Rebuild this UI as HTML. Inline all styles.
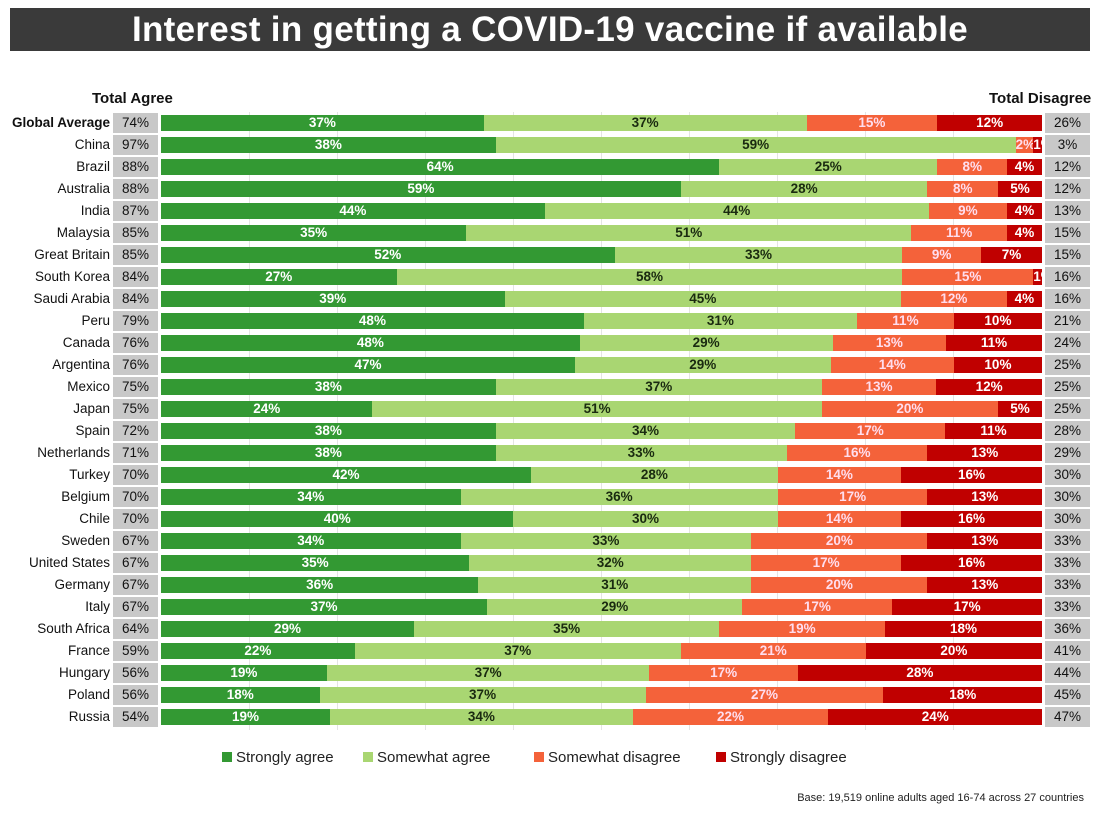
<!DOCTYPE html>
<html><head><meta charset="utf-8"><style>
body{margin:0;width:1118px;height:818px;background:#fff;position:relative;overflow:hidden;font-family:"Liberation Sans",sans-serif}
.title{position:absolute;left:10px;top:8px;width:1080px;height:43px;background:#3a3a3a;color:#fff;font-weight:bold;font-size:35px;text-align:center;line-height:43px;letter-spacing:0.3px}
.h{position:absolute;top:90px;font-weight:bold;font-size:15px;color:#111}
.r{position:absolute;left:0;width:1118px;height:20px}
.n{position:absolute;right:1008px;top:0;line-height:20px;font-size:13.5px;color:#111;white-space:nowrap}
.a,.d{position:absolute;top:0;width:45px;height:20px;background:#c8c8c8;text-align:center;line-height:20px;font-size:13.5px;color:#111}
.a{left:113px}.d{left:1045px}
.b{position:absolute;left:161px;width:881px;top:2px;height:16px;display:flex}
.b span{display:block;height:16px;line-height:16px;text-align:center;font-weight:bold;font-size:13.5px;overflow:hidden;white-space:nowrap}
.s1{background:#339933;color:#fff}.s2{background:#a9d672;color:#1a2a10}.s3{background:#f4623a;color:#fde}.s4{background:#c00000;color:#fff}
.g{position:absolute;top:112px;height:618px;width:1px;background:#e4e4e4}
.lg{position:absolute;top:749px;font-size:15px;color:#222}
.lg i{display:inline-block;width:10px;height:10px;margin-right:4px;vertical-align:0}
.ft{position:absolute;right:34px;top:792px;font-size:11px;color:#222}
</style></head><body>
<div class="title">Interest in getting a COVID-19 vaccine if available</div>
<div class="h" style="left:92px">Total Agree</div>
<div class="h" style="left:989px;white-space:nowrap">Total Disagree</div>
<div class="g" style="left:249px"></div><div class="g" style="left:337px"></div><div class="g" style="left:425px"></div><div class="g" style="left:513px"></div><div class="g" style="left:601px"></div><div class="g" style="left:689px"></div><div class="g" style="left:777px"></div><div class="g" style="left:865px"></div><div class="g" style="left:953px"></div>

<div class="r" style="top:113px"><div class="n" style="font-weight:bold">Global Average</div><div class="a">74%</div><div class="b"><span class="s1" style="flex:37">37%</span><span class="s2" style="flex:37">37%</span><span class="s3" style="flex:15">15%</span><span class="s4" style="flex:12">12%</span></div><div class="d">26%</div></div>
<div class="r" style="top:135px"><div class="n">China</div><div class="a">97%</div><div class="b"><span class="s1" style="flex:38">38%</span><span class="s2" style="flex:59">59%</span><span class="s3" style="flex:2">2%</span><span class="s4" style="flex:1">1%</span></div><div class="d">3%</div></div>
<div class="r" style="top:157px"><div class="n">Brazil</div><div class="a">88%</div><div class="b"><span class="s1" style="flex:64">64%</span><span class="s2" style="flex:25">25%</span><span class="s3" style="flex:8">8%</span><span class="s4" style="flex:4">4%</span></div><div class="d">12%</div></div>
<div class="r" style="top:179px"><div class="n">Australia</div><div class="a">88%</div><div class="b"><span class="s1" style="flex:59">59%</span><span class="s2" style="flex:28">28%</span><span class="s3" style="flex:8">8%</span><span class="s4" style="flex:5">5%</span></div><div class="d">12%</div></div>
<div class="r" style="top:201px"><div class="n">India</div><div class="a">87%</div><div class="b"><span class="s1" style="flex:44">44%</span><span class="s2" style="flex:44">44%</span><span class="s3" style="flex:9">9%</span><span class="s4" style="flex:4">4%</span></div><div class="d">13%</div></div>
<div class="r" style="top:223px"><div class="n">Malaysia</div><div class="a">85%</div><div class="b"><span class="s1" style="flex:35">35%</span><span class="s2" style="flex:51">51%</span><span class="s3" style="flex:11">11%</span><span class="s4" style="flex:4">4%</span></div><div class="d">15%</div></div>
<div class="r" style="top:245px"><div class="n">Great Britain</div><div class="a">85%</div><div class="b"><span class="s1" style="flex:52">52%</span><span class="s2" style="flex:33">33%</span><span class="s3" style="flex:9">9%</span><span class="s4" style="flex:7">7%</span></div><div class="d">15%</div></div>
<div class="r" style="top:267px"><div class="n">South Korea</div><div class="a">84%</div><div class="b"><span class="s1" style="flex:27">27%</span><span class="s2" style="flex:58">58%</span><span class="s3" style="flex:15">15%</span><span class="s4" style="flex:1">1%</span></div><div class="d">16%</div></div>
<div class="r" style="top:289px"><div class="n">Saudi Arabia</div><div class="a">84%</div><div class="b"><span class="s1" style="flex:39">39%</span><span class="s2" style="flex:45">45%</span><span class="s3" style="flex:12">12%</span><span class="s4" style="flex:4">4%</span></div><div class="d">16%</div></div>
<div class="r" style="top:311px"><div class="n">Peru</div><div class="a">79%</div><div class="b"><span class="s1" style="flex:48">48%</span><span class="s2" style="flex:31">31%</span><span class="s3" style="flex:11">11%</span><span class="s4" style="flex:10">10%</span></div><div class="d">21%</div></div>
<div class="r" style="top:333px"><div class="n">Canada</div><div class="a">76%</div><div class="b"><span class="s1" style="flex:48">48%</span><span class="s2" style="flex:29">29%</span><span class="s3" style="flex:13">13%</span><span class="s4" style="flex:11">11%</span></div><div class="d">24%</div></div>
<div class="r" style="top:355px"><div class="n">Argentina</div><div class="a">76%</div><div class="b"><span class="s1" style="flex:47">47%</span><span class="s2" style="flex:29">29%</span><span class="s3" style="flex:14">14%</span><span class="s4" style="flex:10">10%</span></div><div class="d">25%</div></div>
<div class="r" style="top:377px"><div class="n">Mexico</div><div class="a">75%</div><div class="b"><span class="s1" style="flex:38">38%</span><span class="s2" style="flex:37">37%</span><span class="s3" style="flex:13">13%</span><span class="s4" style="flex:12">12%</span></div><div class="d">25%</div></div>
<div class="r" style="top:399px"><div class="n">Japan</div><div class="a">75%</div><div class="b"><span class="s1" style="flex:24">24%</span><span class="s2" style="flex:51">51%</span><span class="s3" style="flex:20">20%</span><span class="s4" style="flex:5">5%</span></div><div class="d">25%</div></div>
<div class="r" style="top:421px"><div class="n">Spain</div><div class="a">72%</div><div class="b"><span class="s1" style="flex:38">38%</span><span class="s2" style="flex:34">34%</span><span class="s3" style="flex:17">17%</span><span class="s4" style="flex:11">11%</span></div><div class="d">28%</div></div>
<div class="r" style="top:443px"><div class="n">Netherlands</div><div class="a">71%</div><div class="b"><span class="s1" style="flex:38">38%</span><span class="s2" style="flex:33">33%</span><span class="s3" style="flex:16">16%</span><span class="s4" style="flex:13">13%</span></div><div class="d">29%</div></div>
<div class="r" style="top:465px"><div class="n">Turkey</div><div class="a">70%</div><div class="b"><span class="s1" style="flex:42">42%</span><span class="s2" style="flex:28">28%</span><span class="s3" style="flex:14">14%</span><span class="s4" style="flex:16">16%</span></div><div class="d">30%</div></div>
<div class="r" style="top:487px"><div class="n">Belgium</div><div class="a">70%</div><div class="b"><span class="s1" style="flex:34">34%</span><span class="s2" style="flex:36">36%</span><span class="s3" style="flex:17">17%</span><span class="s4" style="flex:13">13%</span></div><div class="d">30%</div></div>
<div class="r" style="top:509px"><div class="n">Chile</div><div class="a">70%</div><div class="b"><span class="s1" style="flex:40">40%</span><span class="s2" style="flex:30">30%</span><span class="s3" style="flex:14">14%</span><span class="s4" style="flex:16">16%</span></div><div class="d">30%</div></div>
<div class="r" style="top:531px"><div class="n">Sweden</div><div class="a">67%</div><div class="b"><span class="s1" style="flex:34">34%</span><span class="s2" style="flex:33">33%</span><span class="s3" style="flex:20">20%</span><span class="s4" style="flex:13">13%</span></div><div class="d">33%</div></div>
<div class="r" style="top:553px"><div class="n">United States</div><div class="a">67%</div><div class="b"><span class="s1" style="flex:35">35%</span><span class="s2" style="flex:32">32%</span><span class="s3" style="flex:17">17%</span><span class="s4" style="flex:16">16%</span></div><div class="d">33%</div></div>
<div class="r" style="top:575px"><div class="n">Germany</div><div class="a">67%</div><div class="b"><span class="s1" style="flex:36">36%</span><span class="s2" style="flex:31">31%</span><span class="s3" style="flex:20">20%</span><span class="s4" style="flex:13">13%</span></div><div class="d">33%</div></div>
<div class="r" style="top:597px"><div class="n">Italy</div><div class="a">67%</div><div class="b"><span class="s1" style="flex:37">37%</span><span class="s2" style="flex:29">29%</span><span class="s3" style="flex:17">17%</span><span class="s4" style="flex:17">17%</span></div><div class="d">33%</div></div>
<div class="r" style="top:619px"><div class="n">South Africa</div><div class="a">64%</div><div class="b"><span class="s1" style="flex:29">29%</span><span class="s2" style="flex:35">35%</span><span class="s3" style="flex:19">19%</span><span class="s4" style="flex:18">18%</span></div><div class="d">36%</div></div>
<div class="r" style="top:641px"><div class="n">France</div><div class="a">59%</div><div class="b"><span class="s1" style="flex:22">22%</span><span class="s2" style="flex:37">37%</span><span class="s3" style="flex:21">21%</span><span class="s4" style="flex:20">20%</span></div><div class="d">41%</div></div>
<div class="r" style="top:663px"><div class="n">Hungary</div><div class="a">56%</div><div class="b"><span class="s1" style="flex:19">19%</span><span class="s2" style="flex:37">37%</span><span class="s3" style="flex:17">17%</span><span class="s4" style="flex:28">28%</span></div><div class="d">44%</div></div>
<div class="r" style="top:685px"><div class="n">Poland</div><div class="a">56%</div><div class="b"><span class="s1" style="flex:18">18%</span><span class="s2" style="flex:37">37%</span><span class="s3" style="flex:27">27%</span><span class="s4" style="flex:18">18%</span></div><div class="d">45%</div></div>
<div class="r" style="top:707px"><div class="n">Russia</div><div class="a">54%</div><div class="b"><span class="s1" style="flex:19">19%</span><span class="s2" style="flex:34">34%</span><span class="s3" style="flex:22">22%</span><span class="s4" style="flex:24">24%</span></div><div class="d">47%</div></div>

<div class="lg" style="left:222px"><i style="background:#339933"></i>Strongly agree</div>
<div class="lg" style="left:363px"><i style="background:#a9d672"></i>Somewhat agree</div>
<div class="lg" style="left:534px"><i style="background:#f4623a"></i>Somewhat disagree</div>
<div class="lg" style="left:716px"><i style="background:#c00000"></i>Strongly disagree</div>
<div class="ft">Base: 19,519 online adults aged 16-74 across 27 countries</div>
</body></html>
